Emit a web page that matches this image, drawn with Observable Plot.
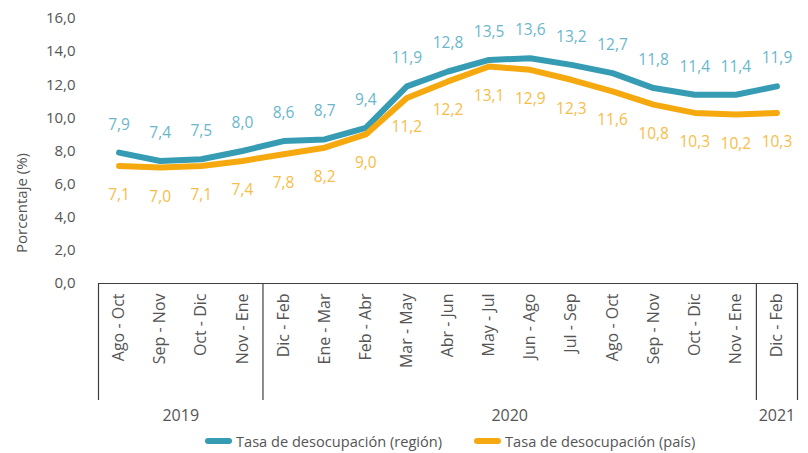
<!DOCTYPE html>
<html><head><meta charset="utf-8">
<script src="https://cdn.jsdelivr.net/npm/d3@7"></script>
<script src="https://cdn.jsdelivr.net/npm/@observablehq/plot@0.6"></script>
<style>
body{margin:0;background:#fff;font-family:"Open Sans",sans-serif;}
#chart svg{display:block;}
#legend{position:relative;height:25px;margin:0;padding:0 0 0 205px;display:flex;align-items:center;font-size:14.6px;color:#555;white-space:nowrap;}
#legend .item{display:flex;align-items:center;margin-right:32px;}
#legend .sw{width:27px;height:6px;border-radius:3px;margin-right:4px;}
</style></head><body>
<div id="chart"></div>
<div id="legend"></div>
<script>
const periods = ["Ago - Oct","Sep - Nov","Oct - Dic","Nov - Ene","Dic - Feb","Ene - Mar","Feb - Abr","Mar - May","Abr - Jun","May - Jul","Jun - Ago","Jul - Sep","Ago - Oct","Sep - Nov","Oct - Dic","Nov - Ene","Dic - Feb"];
const years = ["2019","2020","2021"];
const yearCounts = [4,12,1];
const region = [7.9,7.4,7.5,8.0,8.6,8.7,9.4,11.9,12.8,13.5,13.6,13.2,12.7,11.8,11.4,11.4,11.9];
const pais = [7.1,7.0,7.1,7.4,7.8,8.2,9.0,11.2,12.2,13.1,12.9,12.3,11.6,10.8,10.3,10.2,10.3];
const yTicks = [0,2,4,6,8,10,12,14,16];
const seriesNames = ["Tasa de desocupación (región)","Tasa de desocupación (país)"];
const lineColors = ["#359cb4","#f5a90f"];
const labelColors = ["#6ab7cb","#f7bd48"];
const yLabel = "Porcentaje (%)";

const fmt = v => v.toFixed(1).replace(".", ",");
const textColor = "#555";

const rows = [];
region.forEach((v,i)=>rows.push({i, v, s: seriesNames[0]}));
pais.forEach((v,i)=>rows.push({i, v, s: seriesNames[1]}));
const regRows = rows.filter(d=>d.s===seriesNames[0]);
const paisRows = rows.filter(d=>d.s===seriesNames[1]);

// year groups
const groups = [];
let start = -0.5;
years.forEach((y,k)=>{ const end = start + yearCounts[k]; groups.push({year:y, start, end, mid:(start+end)/2}); start = end; });
const bounds = [groups[0].start, ...groups.map(g=>g.end)];

const H = 428, mTop = 18, mBottom = 145;
const pxPerUnit = (H - mTop - mBottom) / 16;
const sepDepth = 117 / pxPerUnit;

const chart = Plot.plot({
  width: 808, height: H,
  marginLeft: 98, marginRight: 11, marginTop: mTop, marginBottom: mBottom,
  style: {fontFamily: '"Open Sans", sans-serif', fontSize: "15px", color: textColor, background: "#fff"},
  x: {type: "linear", domain: [-0.5, periods.length - 0.5], axis: null},
  y: {domain: [0, 16], axis: null},
  color: {domain: seriesNames, range: lineColors},
  marks: [
    Plot.axisY(yTicks, {tickSize: 0, tickPadding: 23, tickFormat: fmt, fontSize: 15, label: null}),
    Plot.text([yLabel], {frameAnchor: "left", textAnchor: "middle", dx: -76, dy: 52, rotate: -90, fontSize: 15, fill: textColor}),
    Plot.axisX(d3.range(periods.length), {tickSize: 0, tickPadding: 10, tickRotate: -90, tickFormat: i => periods[i], fontSize: 16, label: null}),
    Plot.ruleY([0], {stroke: "#404040", strokeWidth: 1.2}),
    Plot.ruleX(bounds, {x: d=>d, y1: 0, y2: -sepDepth, stroke: "#404040", strokeWidth: 1.2}),
    Plot.text(groups, {x: "mid", y: () => 0, text: "year", dy: 132, fontSize: 16, fill: textColor}),
    Plot.line(rows, {x: "i", y: "v", z: "s", stroke: "s", strokeWidth: 6, strokeLinejoin: "round", strokeLinecap: "round"}),
    Plot.text(regRows, {x: "i", y: "v", text: d => fmt(d.v), dy: -28, fill: labelColors[0], fontSize: 15.5}),
    Plot.text(paisRows, {x: "i", y: "v", text: d => fmt(d.v), dy: 29, fill: labelColors[1], fontSize: 15.5})
  ]
});
document.getElementById("chart").appendChild(chart);

const legend = document.getElementById("legend");
seriesNames.forEach((n,k)=>{
  const it = document.createElement("div"); it.className = "item";
  const sw = document.createElement("span"); sw.className = "sw"; sw.style.background = lineColors[k];
  const t = document.createElement("span"); t.textContent = n;
  it.appendChild(sw); it.appendChild(t); legend.appendChild(it);
});
</script>
</body></html>
